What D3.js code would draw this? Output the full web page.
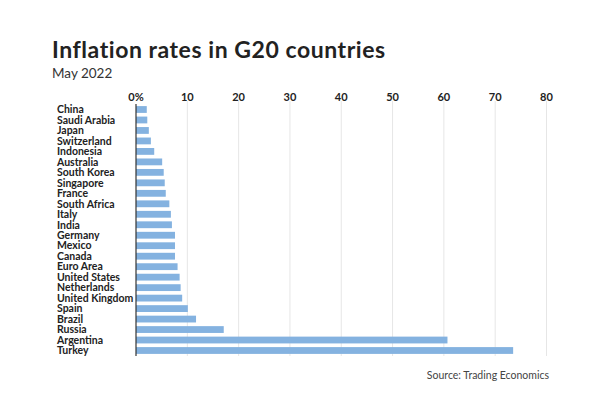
<!DOCTYPE html>
<html>
<head>
<meta charset="utf-8">
<script src="https://cdn.jsdelivr.net/npm/d3@7"></script>
<style>
  body { margin: 0; background: #fff; }
  svg { display: block; font-family: Lato, "Open Sans", sans-serif; }
</style>
</head>
<body>
<div id="chart"></div>
<script>
// data
var countries = [ 'China', 'Saudi Arabia', 'Japan', 'Switzerland', 'Indonesia', 'Australia',
    'South Korea', 'Singapore', 'France', 'South Africa', 'Italy', 'India', 'Germany', 'Mexico',
    'Canada', 'Euro Area', 'United States', 'Netherlands', 'United Kingdom', 'Spain', 'Brazil',
    'Russia', 'Argentina', 'Turkey' ];
var rates = [ 2.1, 2.2, 2.5, 2.9, 3.55, 5.1, 5.4, 5.6, 5.8, 6.5, 6.8, 7.0, 7.6, 7.6,
    7.6, 8.1, 8.5, 8.7, 9.0, 10.1, 11.7, 17.1, 60.7, 73.5 ];
var ticks = [ 0, 10, 20, 30, 40, 50, 60, 70, 80 ];

var W = 612, H = 394;
var margin = { left: 136, right: 65, top: 104, bottom: 38 };

var svg = d3.select('#chart').append('svg')
    .attr('width', W)
    .attr('height', H);

var x = d3.scaleLinear()
    .domain([0, 80])
    .range([margin.left, 546.5]);

var y = d3.scaleBand()
    .domain(countries)
    .range([margin.top, 356])
    .paddingInner(0.35)
    .paddingOuter(0.2);

// title
svg.append('text')
    .attr('x', 52).attr('y', 58)
    .attr('font-size', 23).attr('font-weight', 700)
    .attr('letter-spacing', 0.55)
    .attr('fill', '#222')
    .text('Inflation rates in G20 countries');

svg.append('text')
    .attr('x', 52).attr('y', 78)
    .attr('font-size', 13.5)
    .attr('fill', '#333')
    .text('May 2022');

// grid
svg.append('g').selectAll('line')
    .data(ticks.slice(1))
    .join('line')
    .attr('x1', d => x(d)).attr('x2', d => x(d))
    .attr('y1', 101).attr('y2', 356)
    .attr('stroke', '#e6e6e6')
    .attr('stroke-width', 1);

// x axis labels on top
svg.append('g').selectAll('text')
    .data(ticks)
    .join('text')
    .attr('x', d => x(d))
    .attr('y', 101)
    .attr('text-anchor', 'middle')
    .attr('font-size', 11)
    .attr('font-weight', 700)
    .attr('fill', '#222')
    .text(d => d === 0 ? '0%' : d);

// bars
svg.append('g').selectAll('rect')
    .data(rates)
    .join('rect')
    .attr('x', x(0))
    .attr('y', (d, i) => y(countries[i]))
    .attr('width', d => x(d) - x(0))
    .attr('height', y.bandwidth())
    .attr('fill', '#84b2e0');

// y axis line
svg.append('line')
    .attr('x1', x(0)).attr('x2', x(0))
    .attr('y1', 104).attr('y2', 356)
    .attr('stroke', '#333')
    .attr('stroke-width', 1.2);

// country labels
svg.append('g').selectAll('text')
    .data(countries)
    .join('text')
    .attr('x', 57)
    .attr('y', d => y(d) + y.bandwidth() / 2)
    .attr('dy', '0.36em')
    .attr('font-size', 10.5)
    .attr('font-weight', 700)
    .attr('fill', '#222')
    .text(d => d);

// source
svg.append('text')
    .attr('x', 549).attr('y', 379)
    .attr('text-anchor', 'end')
    .attr('font-size', 10.5)
    .attr('fill', '#444')
    .text('Source: Trading Economics');
</script>
</body>
</html>
